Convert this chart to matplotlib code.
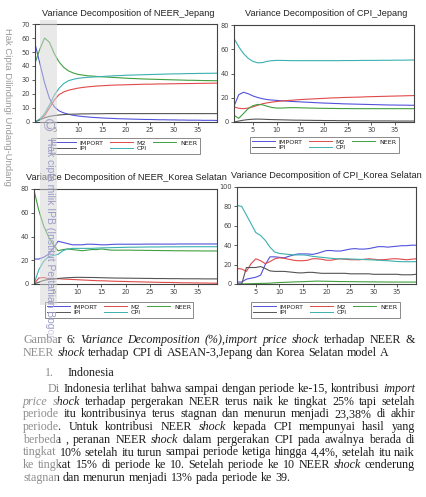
import matplotlib
matplotlib.use('Agg')
import matplotlib.pyplot as plt
from matplotlib.patches import Rectangle

W, H = 426, 497
periods = list(range(1, 40))
names = ['IMPORT', 'M2', 'NEER', 'IPI', 'CPI']
colors = {'IMPORT': '#5252dc', 'M2': '#e04a4a', 'NEER': '#40a040', 'IPI': '#555555', 'CPI': '#3cb0b0'}

# --- Variance decomposition of NEER_Jepang
imp1 = [56, 42, 28, 17, 11, 8, 6.5, 5.5, 4.8, 4.3, 3.9, 3.6, 3.3, 3.1, 2.9, 2.7, 2.6, 2.4, 2.3, 2.2,
        2.1, 2.0, 1.9, 1.8, 1.8, 1.7, 1.6, 1.6, 1.5, 1.5, 1.4, 1.4, 1.3, 1.3, 1.3, 1.2, 1.2, 1.2, 1.1]
m2_1 = [0, 2, 4.5, 10, 15.5, 19.5, 21.5, 22.7, 23.5, 24.2, 24.7, 25.1, 25.4, 25.7, 25.9, 26.1, 26.3, 26.4, 26.5, 26.6,
        26.7, 26.8, 26.9, 27.0, 27.0, 27.1, 27.2, 27.2, 27.3, 27.3, 27.4, 27.4, 27.5, 27.5, 27.6, 27.6, 27.7, 27.7, 27.8]
neer1 = [42, 52, 60, 57, 49, 43, 39, 36.5, 35, 34, 33.5, 33, 32.8, 32.5, 32.3, 32.1, 31.9, 31.7, 31.5, 31.3,
         31.1, 31.0, 30.8, 30.7, 30.6, 30.5, 30.4, 30.3, 30.2, 30.1, 30.0, 29.9, 29.8, 29.8, 29.7, 29.6, 29.6, 29.5, 29.5]
ipi1 = [0, 1.5, 3, 4, 4.6, 5, 5.3, 5.5, 5.6, 5.7, 5.8, 5.8, 5.9, 5.9, 5.9, 6.0, 6.0, 6.0, 6.0, 6.0,
        6.0, 6.0, 6.0, 6.0, 6.0, 6.0, 6.0, 6.0, 6.0, 6.0, 6.0, 6.0, 6.0, 6.0, 6.0, 6.0, 6.0, 6.0, 6.0]
cpi1 = [0, 2, 6, 12, 19, 24, 27.5, 29.5, 30.5, 31.2, 31.6, 31.9, 32.1, 32.3, 32.5, 32.7, 32.9, 33.1, 33.2, 33.4,
        33.5, 33.6, 33.7, 33.8, 33.9, 34.0, 34.1, 34.2, 34.3, 34.4, 34.4, 34.5, 34.6, 34.6, 34.7, 34.7, 34.8, 34.8, 34.9]

# --- Variance decomposition of CPI_Jepang
imp2 = [13, 22.5, 24.5, 23.3, 21.5, 20.2, 19.2, 18.5, 18.1, 17.8, 17.5, 17.3, 17.0, 16.8, 16.6, 16.4, 16.2, 16.0, 15.8, 15.6,
        15.5, 15.3, 15.2, 15.0, 14.9, 14.8, 14.7, 14.6, 14.5, 14.4, 14.3, 14.2, 14.1, 14.0, 14.0, 13.9, 13.9, 13.8, 13.8]
m2_2 = [12.5, 11.3, 11, 11.5, 12.5, 13.8, 15, 15.8, 16.4, 16.9, 17.3, 17.6, 17.9, 18.2, 18.5, 18.7, 18.9, 19.1, 19.3, 19.5,
        19.7, 19.9, 20.0, 20.2, 20.3, 20.4, 20.5, 20.6, 20.8, 20.9, 21.0, 21.1, 21.2, 21.3, 21.4, 21.5, 21.6, 21.7, 21.8]
neer2 = [5.5, 3, 7, 11, 13.5, 14.5, 14.2, 13, 12, 11.5, 11.5, 11.7, 11.8, 11.8, 11.7, 11.6, 11.5, 11.4, 11.3, 11.3,
         11.2, 11.2, 11.1, 11.1, 11.1, 11.0, 11.0, 11.0, 11.0, 11.0, 11.0, 11.0, 11.0, 11.0, 11.0, 11.0, 11.0, 11.0, 11.0]
ipi2 = [0, 0.8, 1.5, 2, 2.3, 2.4, 2.3, 2.1, 2.0, 1.9, 1.8, 1.7, 1.6, 1.5, 1.5, 1.4, 1.4, 1.3, 1.3, 1.2,
        1.2, 1.2, 1.1, 1.1, 1.1, 1.0, 1.0, 1.0, 1.0, 0.9, 0.9, 0.9, 0.9, 0.9, 0.8, 0.8, 0.8, 0.8, 0.8]
cpi2 = [69, 62, 56.5, 52.5, 50, 48.8, 49, 50, 50.6, 50.8, 50.8, 50.7, 50.6, 50.6, 50.6, 50.6, 50.6, 50.6, 50.6, 50.6,
        50.6, 50.6, 50.6, 50.7, 50.7, 50.7, 50.7, 50.8, 50.8, 50.8, 50.8, 50.9, 50.9, 50.9, 51.0, 51.0, 51.0, 51.1, 51.1]

# --- Variance decomposition of NEER_Korea Selatan
imp3 = [21, 21, 22.5, 25, 30, 36, 35, 34, 33, 33, 33, 33.5, 33.5, 33.3, 33, 33, 33.3, 33.5, 33.5, 33.5,
        33.5, 33.5, 33.5, 33.6, 33.6, 33.6, 33.6, 33.6, 33.6, 33.6, 33.7, 33.7, 33.7, 33.7, 33.7, 33.7, 33.7, 33.7, 33.7]
m2_3 = [0, 5, 5.5, 4.5, 4.5, 4.5, 4.2, 4, 3.8, 3.6, 3.4, 3.2, 3.0, 2.8, 2.7, 2.6, 2.4, 2.3, 2.2, 2.1,
        2.0, 1.9, 1.8, 1.7, 1.6, 1.5, 1.4, 1.3, 1.3, 1.2, 1.1, 1.0, 1.0, 0.9, 0.9, 0.8, 0.8, 0.7, 0.7]
neer3 = [79, 62, 49, 40, 33, 28, 29, 29.5, 29, 28.5, 28, 28.5, 29, 29, 29.5, 29, 28.5, 28.5, 28.5, 28.5,
         28.5, 28.4, 28.4, 28.3, 28.3, 28.2, 28.2, 28.1, 28.1, 28.0, 28.0, 28.0, 27.9, 27.9, 27.9, 27.8, 27.8, 27.8, 27.8]
ipi3 = [0, 1.5, 3, 3.8, 4.2, 4.6, 5, 5.3, 5.5, 5.6, 5.6, 5.5, 5.5, 5.4, 5.3, 5.2, 5.1, 5.0, 5.0, 4.9,
        4.9, 4.8, 4.8, 4.7, 4.7, 4.6, 4.6, 4.6, 4.5, 4.5, 4.5, 4.4, 4.4, 4.4, 4.4, 4.3, 4.3, 4.3, 4.3]
cpi3 = [0, 12, 19, 23, 24, 25, 28, 29.5, 30, 30, 30, 30, 30, 30.2, 30.4, 30.5, 30.6, 30.7, 30.8, 30.9,
        31, 31, 31.1, 31.1, 31.2, 31.2, 31.2, 31.3, 31.3, 31.3, 31.3, 31.4, 31.4, 31.4, 31.4, 31.4, 31.4, 31.4, 31.4]

# --- Variance decomposition of CPI_Korea Selatan
imp4 = [2, 2, 5, 6, 7, 9, 20, 28, 28, 27.5, 27, 28.5, 30, 31, 31, 31, 30.5, 31.5, 33, 34.5,
        34.5, 34, 34, 35, 36, 36.5, 36, 36, 36.5, 37.5, 38.5, 38.5, 38, 38.5, 39, 39.5, 39.5, 40, 40]
m2_4 = [16, 15.5, 13, 21, 26, 24, 21, 23, 26, 27, 26.5, 25.5, 24.5, 24, 24, 24.5, 26, 26, 25.5, 24.5,
        24.5, 25.5, 26, 25.5, 25, 25, 25, 25.5, 26, 25.5, 25, 25, 25.5, 26, 26, 25.5, 25, 25.5, 26]
neer4 = [0, 0, 0.2, 0.3, 0.5, 0.6, 0.7, 0.9, 1.2, 1.5, 1.7, 1.9, 2.1, 2.3, 2.4, 2.6, 2.8, 3.0, 2.9, 2.8,
         2.7, 2.6, 2.5, 2.5, 2.4, 2.4, 2.3, 2.3, 2.2, 2.2, 2.1, 2.1, 2.0, 2.0, 2.0, 2.0, 2.0, 2.0, 2.0]
ipi4 = [0, 0, 17, 17, 17, 18, 16, 13.5, 13, 13, 13, 12.5, 12, 11.5, 11.5, 12, 12, 11.5, 11, 11,
        11, 11, 11, 11, 10.5, 10.5, 10.5, 10.5, 10.5, 10, 10, 10, 10, 10, 10, 9.5, 9.5, 9.5, 10]
cpi4 = [81, 80, 71, 62, 53, 50, 45, 38, 33, 31.5, 31, 30.5, 30, 30, 30, 29.5, 28.5, 28, 27.5, 27,
        26.5, 26, 26, 26, 25.8, 25.6, 25.4, 25.2, 25, 24.8, 24.5, 24.2, 24, 23.6, 23.2, 23, 23, 23, 23]

titles = ['Variance Decomposition of NEER_Jepang', 'Variance Decomposition of CPI_Jepang',
          'Variance Decomposition of NEER_Korea Selatan', 'Variance Decomposition of CPI_Korea Selatan']
data = [[imp1, m2_1, neer1, ipi1, cpi1], [imp2, m2_2, neer2, ipi2, cpi2],
        [imp3, m2_3, neer3, ipi3, cpi3], [imp4, m2_4, neer4, ipi4, cpi4]]
ytop = [70, 80, 80, 100]
ystep = [10, 20, 20, 20]
# axes boxes in pixels: left, top, right, bottom ; title centre x ; legend centre x, legend top y
boxes = [(35, 24, 217, 122), (234, 25, 414, 122), (34, 189, 217, 284), (237, 187, 416, 284)]
title_x = [128, 326, 126, 326]
legpos = [(125, 138), (324, 137), (119, 302), (325, 302)]

fig = plt.figure(figsize=(W / 100, H / 100), dpi=100)

for k in range(4):
    l, t, r, b = boxes[k]
    ax = fig.add_axes([l / W, 1 - b / H, (r - l) / W, (b - t) / H])
    lines = {}
    for name, vals in zip(names, data[k]):
        lines[name], = ax.plot(periods, vals, color=colors[name], lw=0.8)
    ax.set_xlim(1, 39)
    ax.set_ylim(0, ytop[k])
    ax.set_xticks([5, 10, 15, 20, 25, 30, 35])
    ax.set_yticks(range(0, ytop[k] + 1, ystep[k]))
    ax.tick_params(labelsize=4.8, length=2.2, width=0.6, pad=1.5, colors='#444')
    for s in ax.spines.values():
        s.set_color('#444')
        s.set_linewidth(0.8)
    fig.text(title_x[k] / W, 1 - (t - 11) / H, titles[k], ha='center', va='center',
             fontsize=6.6, family='Liberation Sans', color='#222')
    order = ['IMPORT', 'IPI', 'M2', 'CPI', 'NEER']
    cx, ty = legpos[k]
    leg = ax.legend([lines[n] for n in order], order, ncol=3, loc='upper center',
                    bbox_to_anchor=(cx / W, 1 - ty / H), bbox_transform=fig.transFigure,
                    fontsize=4.6, frameon=True, fancybox=False, handlelength=3.6,
                    handletextpad=0.6, columnspacing=1.0, labelspacing=0.05,
                    borderpad=0.35, borderaxespad=0)
    leg.get_frame().set_edgecolor('#555')
    leg.get_frame().set_linewidth(0.6)
    for txt in leg.get_texts():
        txt.set_color('#222')
    for ln in leg.get_lines():
        ln.set_linewidth(0.7)

# watermark pieces of the scanned page
fig.patches.append(Rectangle((40 / W, 1 - 305 / H), 17 / W, 285 / H, transform=fig.transFigure,
                             facecolor='#d4d4d4', alpha=0.5, edgecolor='none', zorder=10))
fig.text(7 / W, 1 - 28 / H, 'Hak Cipta Dilindungi Undang-Undang', rotation=-90, ha='center', va='top',
         fontsize=6.8, family='Liberation Sans', color='#9a9a9a')
fig.text(50 / W, 1 - 126 / H, '\u00a9', ha='center', va='center', fontsize=11, color='#a8a8c8', zorder=11)
fig.text(50 / W, 1 - 138 / H, 'Hak cipta milik IPB (Institut Pertanian Bogor)', rotation=-90, ha='center',
         va='top', fontsize=7.4, family='Liberation Sans', color='#9a9ac6', zorder=11)

# caption and body text (justified word by word)
renderer = fig.canvas.get_renderer()

body = [
    'Di Indonesia terlihat bahwa sampai dengan periode ke-15, kontribusi *import*',
    '*price shock* terhadap pergerakan NEER terus naik ke tingkat 25% tapi setelah',
    'periode itu kontribusinya terus stagnan dan menurun menjadi 23,38% di akhir',
    'periode. Untuk kontribusi NEER *shock* kepada CPI mempunyai hasil yang',
    'berbeda , peranan NEER *shock* dalam pergerakan CPI pada awalnya berada di',
    'tingkat 10% setelah itu turun sampai periode ketiga hingga 4,4%, setelah itu naik',
    'ke tingkat 15% di periode ke 10. Setelah periode ke 10  NEER *shock* cenderung',
    'stagnan dan menurun menjadi 13% pada periode ke 39.',
]

# font size chosen so the tightest line (the 6th) just fills the text column
probe = fig.text(0, 0, body[5], fontsize=10, family='Liberation Serif')
FS = 10 * 390 / probe.get_window_extent(renderer).width
probe.remove()


def put_line(y, x0, x1, line, justify=True):
    words = []
    ital = False
    for tok in line.split():
        start, end = tok.startswith('*'), tok.endswith('*')
        words.append((tok.strip('*'), ital or start))
        if start and not end:
            ital = True
        if end:
            ital = False
    arts = []
    for w, it in words:
        a = fig.text(0, 1 - y / H, w, fontsize=FS, family='Liberation Serif',
                     style='italic' if it else 'normal', va='center', ha='left', color='#1c1c1c')
        arts.append(a)
    widths = [a.get_window_extent(renderer).width for a in arts]
    gap = FS * 100 / 72 * 0.25
    if justify and len(arts) > 1:
        gap = (x1 - x0 - sum(widths)) / (len(arts) - 1)
    x = x0
    for a, w in zip(arts, widths):
        a.set_x(x / W)
        x += w + gap


put_line(340, 23, 415, 'Gambar 6: *Variance Decomposition (%),import price shock* terhadap NEER &')
put_line(353, 23, 415, 'NEER *shock* terhadap CPI  di ASEAN-3,Jepang dan Korea Selatan model A', False)
put_line(373, 45, 415, '1.', False)
put_line(373, 67, 415, 'Indonesia', False)
for i, line in enumerate(body):
    put_line(389 + 12.7 * i, 48 if i == 0 else 23, 415, line, i < len(body) - 1)

# faded left strip over the text
fig.patches.append(Rectangle((0, 0), 58 / W, 1 - 330 / H, transform=fig.transFigure,
                             facecolor='white', alpha=0.5, edgecolor='none', zorder=12))

fig.savefig('out.png', dpi=100, facecolor='white')
